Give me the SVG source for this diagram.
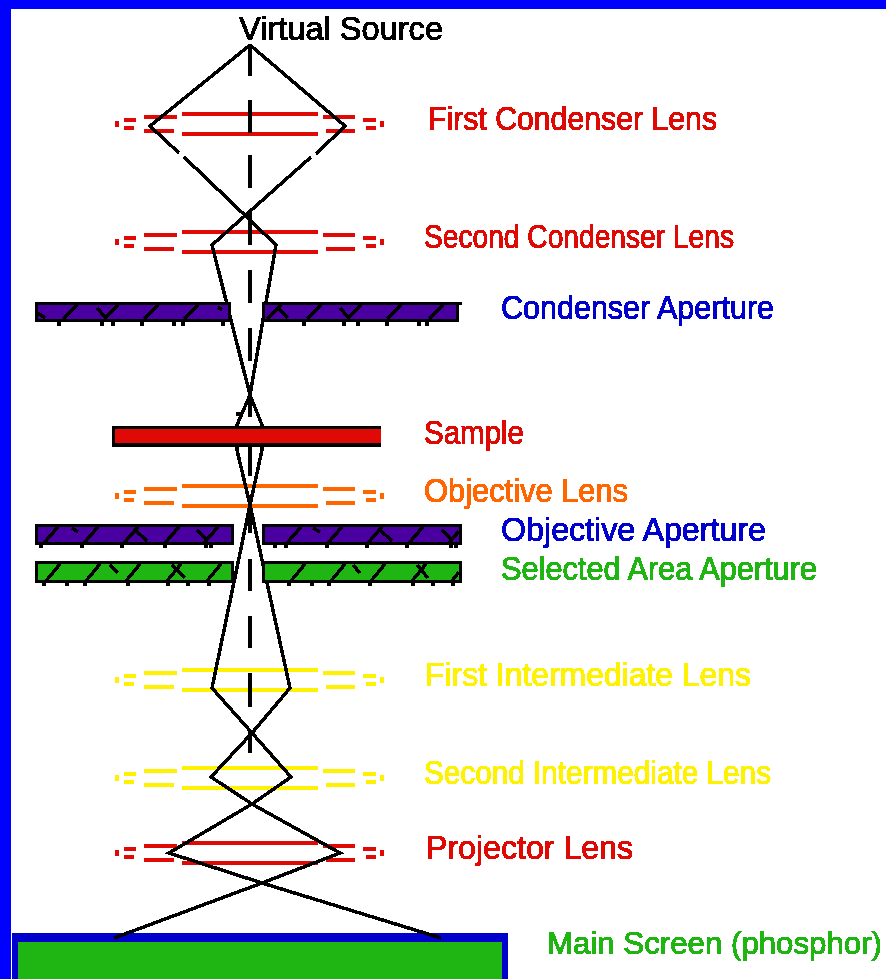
<svg xmlns="http://www.w3.org/2000/svg" xmlns:xlink="http://www.w3.org/1999/xlink" width="886" height="979" viewBox="0 0 886 979">
<style>
text{font-family:"Liberation Sans",Arial,sans-serif;font-size:33px;stroke-width:.7;filter:url(#hard);}
rect,path{shape-rendering:crispEdges;}
.beam{fill:none;stroke:#000;stroke-width:3.5;stroke-linejoin:miter;}
.axis{fill:none;stroke:#000;stroke-width:4;}
.edge{stroke:#000;stroke-width:3;}
.hatch{fill:none;stroke:#000;stroke-width:3.5;}
.purple{fill:#4a00a0;}
.green{fill:#1fb512;}
.red{fill:#df0a05;}
.orange{fill:#ff6600;}
.yellow{fill:#fff200;}
.blue{fill:#0000cc;}
.black{fill:#000;}
text.black{stroke:#000;}
text.red{stroke:#df0a05;}
text.orange{stroke:#ff6600;}
text.yellow{stroke:#fff200;}
text.blue{stroke:#0000cc;}
text.green{stroke:#1fb512;}
text.small{font-size:31px;}
</style>
<defs>
<filter id="hard" x="-5%" y="-20%" width="110%" height="140%" color-interpolation-filters="sRGB">
<feComponentTransfer><feFuncA type="discrete" tableValues="0 1 1"/></feComponentTransfer>
</filter>
<g id="lens">
<rect x="182" y="112" width="136" height="4"/><rect x="182" y="132" width="136" height="4"/>
<rect x="144" y="115" width="33" height="4"/><rect x="144" y="129" width="30" height="4"/>
<rect x="124" y="118" width="12" height="4"/><rect x="124" y="126" width="10" height="4"/>
<rect x="115" y="121" width="4" height="6"/>
<rect x="323" y="115" width="32" height="4"/><rect x="326" y="129" width="29" height="4"/>
<rect x="363" y="118" width="13" height="4"/><rect x="366" y="126" width="10" height="4"/>
<rect x="380" y="121" width="4" height="6"/>
</g>
</defs>
<rect id="background" width="886" height="979" fill="#fff"/>
<g id="frame" fill="#0000ff"><rect width="886" height="9"/><rect width="11" height="979"/></g>

<g id="virtual-source"><text class="black" x="239" y="40" textLength="204" lengthAdjust="spacingAndGlyphs">Virtual Source</text></g>

<g id="first-condenser-lens" class="red"><use href="#lens" xlink:href="#lens"/><text class="red" x="428" y="130" textLength="289" lengthAdjust="spacingAndGlyphs">First Condenser Lens</text></g>
<g id="second-condenser-lens" class="red"><use href="#lens" xlink:href="#lens" y="118"/><text class="red" x="424" y="248" textLength="310" lengthAdjust="spacingAndGlyphs">Second Condenser Lens</text></g>
<g id="objective-lens" class="orange"><use href="#lens" xlink:href="#lens" y="372"/><text class="orange" x="424" y="502" textLength="204" lengthAdjust="spacingAndGlyphs">Objective Lens</text></g>
<g id="first-intermediate-lens" class="yellow"><use href="#lens" xlink:href="#lens" y="556"/><text class="yellow" x="425" y="686" textLength="326" lengthAdjust="spacingAndGlyphs">First Intermediate Lens</text></g>
<g id="second-intermediate-lens" class="yellow"><use href="#lens" xlink:href="#lens" y="654"/><text class="yellow" x="424" y="784" textLength="347" lengthAdjust="spacingAndGlyphs">Second Intermediate Lens</text></g>
<g id="projector-lens" class="red"><use href="#lens" xlink:href="#lens" y="729"/><text class="red" x="426" y="859" textLength="207" lengthAdjust="spacingAndGlyphs">Projector Lens</text></g>

<g id="main-screen">
<rect class="blue" x="12" y="933" width="496" height="46"/>
<rect class="green" x="18" y="942" width="484" height="37"/>
<text class="green small" x="547" y="954" textLength="335" lengthAdjust="spacingAndGlyphs">Main Screen (phosphor)</text>
</g>

<g id="connectors">
<path class="axis" d="M250 45V76M250 100V133M250 155V188M250 210V245M250 270V303M250 328V361M250 385V417M250 443V476M250 497V533M250 559V591M250 616V648M250 673V707M250 730V753"/>
<path class="beam" d="M250 45L150 126L179 153M184 157L276 245L250 395L237 425V450L250 505L212 688L252 733L291 777L252 804L169 853L262 883L441 938"/>
<path class="beam" d="M250 45L345 126L316 154M311 157L212 245L250 395L262 425V450L250 505L290 688L252 733L211 777L252 804L340 853L262 883L114 938"/>
<rect class="black" x="236" y="412" width="4" height="4"/>
</g>

<g id="condenser-aperture">
<rect class="purple edge" x="36.5" y="303.5" width="193" height="17"/>
<rect class="purple edge" x="263.5" y="303.5" width="194" height="17"/>
<rect class="black" x="455" y="302" width="7" height="3"/>
<path class="hatch" d="M63 319L77 305M104 319L118 305M144 319L158 305M184 319L198 305M97 308L105 317M38 313L45 318M218 307L222 310M267 319L281 305M307 319L321 305M347 319L361 305M387 319L401 305M429 319L443 305M277 307L288 318M340 308L348 317"/>
<path class="black" d="M57 322h4v4h-4zM100 322h4v4h-4zM111 322h4v4h-4zM140 322h4v4h-4zM172 322h4v4h-4zM181 322h4v4h-4zM221 322h4v4h-4zM302 322h4v4h-4zM342 322h4v4h-4zM356 322h4v4h-4zM385 322h4v4h-4zM417 322h4v4h-4zM425 322h4v4h-4z"/>
<text class="blue" x="501" y="319" textLength="273" lengthAdjust="spacingAndGlyphs">Condenser Aperture</text>
</g>

<g id="sample">
<rect class="black" x="112" y="426" width="269" height="21"/>
<rect class="red" x="115" y="429" width="266" height="14"/>
<text class="red" x="424" y="444" textLength="100" lengthAdjust="spacingAndGlyphs">Sample</text>
</g>

<g id="objective-aperture">
<rect class="purple edge" x="36.5" y="525.5" width="196" height="18"/>
<rect class="purple edge" x="263.5" y="525.5" width="197" height="18"/>
<path class="hatch" d="M44 543L58 527M84 543L98 527M124 543L138 527M165 543L179 527M204 543L218 527M72 528L78 532M135 530L147 541M197 530L208 541M287 543L301 527M328 543L342 527M368 543L382 527M409 543L423 527M449 543L459 531M313 528L320 532M380 530L392 541M442 530L453 541"/>
<path class="black" d="M39 545h4v3h-4zM80 545h4v3h-4zM120 545h4v3h-4zM163 545h4v3h-4zM204 545h4v3h-4zM209 545h4v3h-4zM273 545h4v3h-4zM284 545h4v3h-4zM325 545h4v3h-4zM365 545h4v3h-4zM405 545h4v3h-4zM449 545h4v3h-4zM454 545h4v3h-4z"/>
<text class="blue" x="501" y="541" textLength="265" lengthAdjust="spacingAndGlyphs">Objective Aperture</text>
</g>

<g id="selected-area-aperture">
<rect class="green edge" x="36.5" y="562.5" width="196" height="19"/>
<rect class="green edge" x="263.5" y="562.5" width="197" height="19"/>
<path class="hatch" d="M46 581L60 564M86 581L100 564M126 581L140 564M167 581L181 564M207 581L221 564M110 565L118 573M172 565L185 578M291 581L305 564M331 581L345 564M371 581L385 564M412 581L426 564M452 581L459 572M353 565L360 573M417 565L428 578"/>
<path class="black" d="M42 583h4v3h-4zM65 583h4v3h-4zM83 583h4v3h-4zM126 583h4v3h-4zM166 583h4v3h-4zM186 583h4v3h-4zM207 583h4v3h-4zM287 583h4v3h-4zM310 583h4v3h-4zM327 583h4v3h-4zM368 583h4v3h-4zM411 583h4v3h-4zM431 583h4v3h-4zM451 583h4v3h-4z"/>
<text class="green" x="501" y="580" textLength="316" lengthAdjust="spacingAndGlyphs">Selected Area Aperture</text>
</g>
</svg>
